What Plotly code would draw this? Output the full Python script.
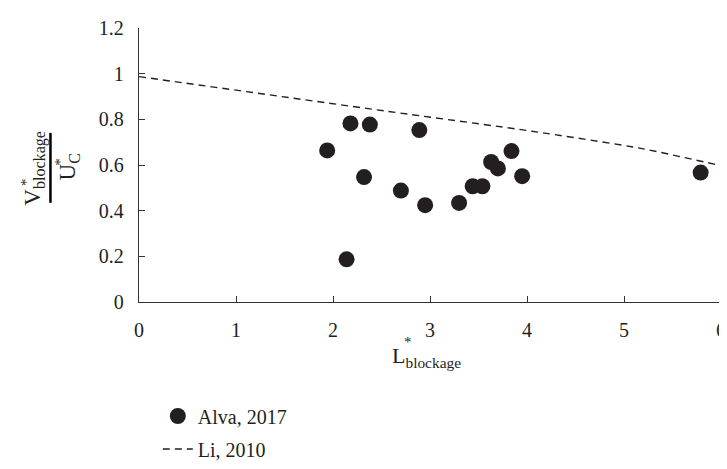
import plotly.graph_objects as go

# Data
alva_x = [1.94, 2.18, 2.38, 2.89, 2.32, 2.70, 2.95, 2.14, 3.30, 3.44, 3.54, 3.63, 3.70, 3.84, 3.95, 5.79]
alva_y = [0.664, 0.782, 0.777, 0.753, 0.547, 0.488, 0.424, 0.187, 0.434, 0.507, 0.507, 0.613, 0.585, 0.661, 0.551, 0.567]
li_x = [0, 2.53, 4.05, 5.16, 5.97]
li_y = [0.987, 0.837, 0.748, 0.674, 0.60]
x_ticks = [0, 1, 2, 3, 4, 5, 6]
y_ticks = [0, 0.2, 0.4, 0.6, 0.8, 1.0, 1.2]
y_ticktext = ["0", "0.2", "0.4", "0.6", "0.8", "1", "1.2"]

W, H = 727, 469
L, R, T, B = 131, 9, 18, 161
pw, ph = W - L - R, H - T - B

def px(x):
    return (x - L) / pw

def py(y):
    return (T + ph - y) / ph

FONT = "Liberation Serif"
INK = "#231f20"

fig = go.Figure()
fig.add_trace(go.Scatter(
    x=alva_x, y=alva_y, mode="markers", name="Alva, 2017",
    marker=dict(size=16, color=INK), legendgroup="a"))
fig.add_trace(go.Scatter(
    x=li_x, y=li_y, mode="lines", name="Li, 2010",
    line=dict(color=INK, width=1.4, dash="7px,5px", shape="spline", smoothing=0.6), legendgroup="b"))

axis_common = dict(
    showgrid=False, zeroline=False, showline=True, linecolor="#333333", linewidth=1.3,
    ticks="inside", ticklen=6, tickwidth=1.2, tickcolor="#333333",
    tickfont=dict(family=FONT, size=20, color=INK), fixedrange=True,
    ticklabeloverflow="allow")

fig.update_xaxes(range=[0, 6], tickvals=x_ticks, ticklabelstandoff=10, **axis_common)
fig.update_yaxes(range=[0, 1.2], tickvals=y_ticks, ticktext=y_ticktext,
                 ticklabelstandoff=10, **axis_common)

def note(x, y, text, size, angle=0, xanchor="center", yanchor="middle"):
    fig.add_annotation(x=px(x), y=py(y), xref="paper", yref="paper", xanchor=xanchor, yanchor=yanchor,
                       text=text, showarrow=False, textangle=angle,
                       font=dict(family=FONT, size=size, color=INK))

# x-axis title: L with stacked * and subscript
note(384, 366, "L<sub>blockage</sub>", 22, xanchor="left")
note(396, 350, "*", 15, xanchor="left")

# y-axis title: fraction V*_blockage / U*_C
note(26, 166, "V<sub>blockage</sub>", 23, angle=-90)
note(17, 181, "*", 15, angle=-90)
note(60, 165, "U<sub>C</sub>", 23, angle=-90)
note(51, 160, "*", 15, angle=-90)
fig.add_shape(type="line", xref="paper", yref="paper", x0=px(41.7), x1=px(41.7), y0=py(129), y1=py(203),
              line=dict(color="black", width=2.5))

fig.update_layout(
    width=W, height=H, margin=dict(l=L, r=R, t=T, b=B),
    paper_bgcolor="white", plot_bgcolor="white",
    showlegend=True,
    legend=dict(x=px(150), y=py(408), xanchor="left", yanchor="top", tracegroupgap=4,
                font=dict(family=FONT, size=20, color=INK), bgcolor="rgba(0,0,0,0)"),
)

fig.write_html("out.html")
